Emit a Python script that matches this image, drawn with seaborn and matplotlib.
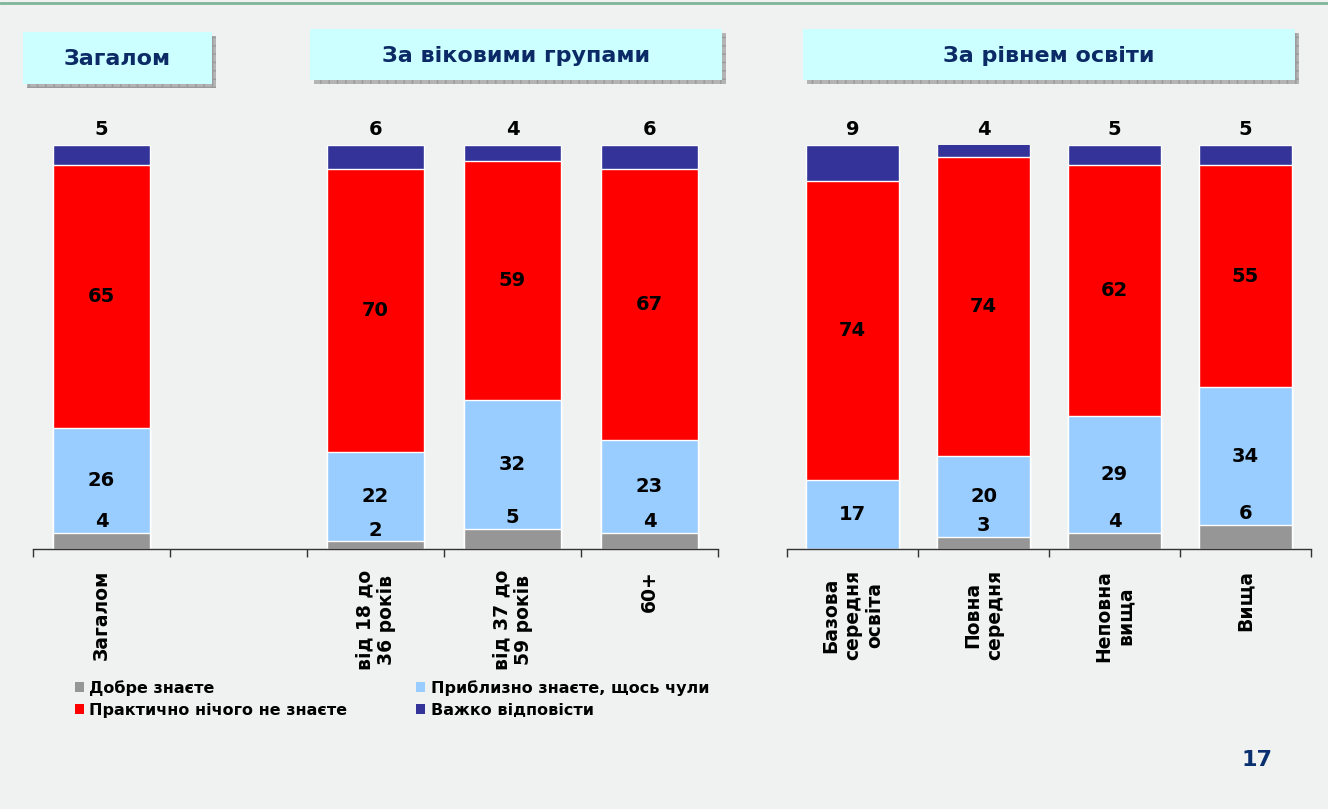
import numpy as np
import pandas as pd
import matplotlib
matplotlib.use("Agg")
import matplotlib.pyplot as plt
import seaborn as sns
from matplotlib.patches import Rectangle, Patch
from matplotlib.lines import Line2D

# ---------------- data ----------------
series_names = ["Добре знаєте", "Приблизно знаєте, щось чули",
                "Практично нічого не знаєте", "Важко відповісти"]
series_colors = ["#969696", "#99ccff", "#ff0000", "#333399"]

cats_left = ["Загалом", "від 18 до\n36 років", "від 37 до\n59 років", "60+"]
good_left = [4, 2, 5, 4]
approx_left = [26, 22, 32, 23]
nothing_left = [65, 70, 59, 67]
hard_left = [5, 6, 4, 6]

cats_right = ["Базова\nсередня\nосвіта", "Повна\nсередня", "Неповна\nвища", "Вища"]
good_right = [0, 3, 4, 6]
approx_right = [17, 20, 29, 34]
nothing_right = [74, 74, 62, 55]
hard_right = [9, 4, 5, 5]

headers = ["Загалом", "За віковими групами", "За рівнем освіти"]
page_number = "17"

# ---------------- figure ----------------
W, H = 1328, 809
sns.set_theme(style="white")
plt.rcParams["font.family"] = ["DejaVu Sans"]
plt.rcParams["font.weight"] = "bold"
plt.rcParams["text.color"] = "black"
plt.rcParams["xtick.color"] = "#333333"
plt.rcParams["xtick.labelcolor"] = "black"
fig = plt.figure(figsize=(W / 100, H / 100), dpi=100)
fig.patch.set_facecolor("#f0f2f2")

def fx(px):
    return px / W

def fy(py):
    return 1 - py / H

# top green line
fig.add_artist(Line2D([0, 1], [fy(3), fy(3)], color="#7fb69a", lw=2.0,
                      transform=fig.transFigure))

# header boxes (x0, y0, x1, y1 in px)
boxes = [(23, 32, 212, 84), (310, 29, 722, 80), (803, 29, 1295, 80)]
for (x0, y0, x1, y1), txt in zip(boxes, headers):
    sh = Rectangle((fx(x0 + 4), fy(y1 + 4)), fx(x1 - x0), (y1 - y0) / H,
                   transform=fig.transFigure, facecolor="#b4b4b4",
                   edgecolor="#9a9a9a", hatch="++", lw=0.0, zorder=1)
    fig.add_artist(sh)
    bx = Rectangle((fx(x0), fy(y1)), fx(x1 - x0), (y1 - y0) / H,
                   transform=fig.transFigure, facecolor="#ccffff",
                   edgecolor="none", zorder=2)
    fig.add_artist(bx)
    fig.text(fx((x0 + x1) / 2), fy((y0 + y1) / 2 + 1), txt, ha="center",
             va="center", fontsize=16, fontweight="bold", color="#0b2a66",
             zorder=3)


def draw_panel(ax, cats, order, good, approx, nothing, hard):
    df = pd.DataFrame({"cat": cats, "good": good, "approx": approx,
                       "nothing": nothing, "hard": hard})
    df["c1"] = df["good"]
    df["c2"] = df["c1"] + df["approx"]
    df["c3"] = df["c2"] + df["nothing"]
    df["c4"] = df["c3"] + df["hard"]
    cols = ["c4", "c3", "c2", "c1"]
    colors = series_colors[::-1]
    for col, colr in zip(cols, colors):
        sns.barplot(data=df, x="cat", y=col, order=order, color=colr,
                    saturation=1, width=0.71, edgecolor="white", linewidth=1.0,
                    errorbar=None, ax=ax)
    ax.set_ylim(0, 100)
    ax.set_xlim(-0.5, len(order) - 0.5)
    for _, r in df.iterrows():
        x = order.index(r["cat"])
        kw = dict(ha="center", fontsize=14, fontweight="bold", color="black")
        if r["good"] > 0:
            ax.annotate(str(r["good"]), (x, r["c1"]), xytext=(0, 1),
                        textcoords="offset points", va="bottom", **kw)
        ax.text(x, (r["c1"] + r["c2"]) / 2, str(r["approx"]), va="center", **kw)
        ax.text(x, (r["c2"] + r["c3"]) / 2, str(r["nothing"]), va="center", **kw)
        ax.annotate(str(r["hard"]), (x, min(r["c4"], 100)), xytext=(0, 4),
                    textcoords="offset points", va="bottom", **kw)
    # axis styling
    for s in ["top", "left", "right"]:
        ax.spines[s].set_visible(False)
    ax.spines["bottom"].set_color("#333333")
    ax.spines["bottom"].set_linewidth(1.0)
    ax.set_yticks([])
    ax.set_xlabel("")
    ax.set_ylabel("")
    ax.set_facecolor("none")
    n = len(order)
    ax.set_xticks(np.arange(n + 1) - 0.5, [""] * (n + 1))
    ax.tick_params(axis="x", which="major", direction="out", length=6,
                   width=1, color="#333333", bottom=True)
    ax.set_xticks(np.arange(n), order, minor=True, rotation=90,
                  fontsize=13.5, fontweight="bold", ha="center", va="top",
                  multialignment="center", color="black")
    ax.tick_params(axis="x", which="minor", length=0, pad=15)


base = 549
top = 145
axL = fig.add_axes([fx(33), fy(base), fx(718 - 33), (base - top) / H])
order_left = [cats_left[0], " "] + cats_left[1:]
draw_panel(axL, cats_left, order_left, good_left, approx_left, nothing_left,
           hard_left)

axR = fig.add_axes([fx(787), fy(base), fx(1311 - 787), (base - top) / H])
draw_panel(axR, cats_right, list(cats_right), good_right, approx_right,
           nothing_right, hard_right)

# legend
handles = [Patch(facecolor=c, edgecolor="none") for c in series_colors]
order_idx = [0, 2, 1, 3]
leg = fig.legend([handles[i] for i in order_idx],
                 [series_names[i] for i in order_idx], ncol=2,
                 loc="upper left", bbox_to_anchor=(fx(75), fy(680)),
                 frameon=False, fontsize=11.5, handlelength=0.55,
                 handleheight=0.55, handletextpad=0.35, columnspacing=4.3,
                 labelspacing=0.45, borderpad=0, borderaxespad=0)
for t in leg.get_texts():
    t.set_fontweight("bold")
    t.set_color("black")

fig.text(fx(1257), fy(760), page_number, ha="center", va="center",
         fontsize=16, fontweight="bold", color="#0b3070")

fig.savefig("out.png", dpi=100, facecolor=fig.get_facecolor())
